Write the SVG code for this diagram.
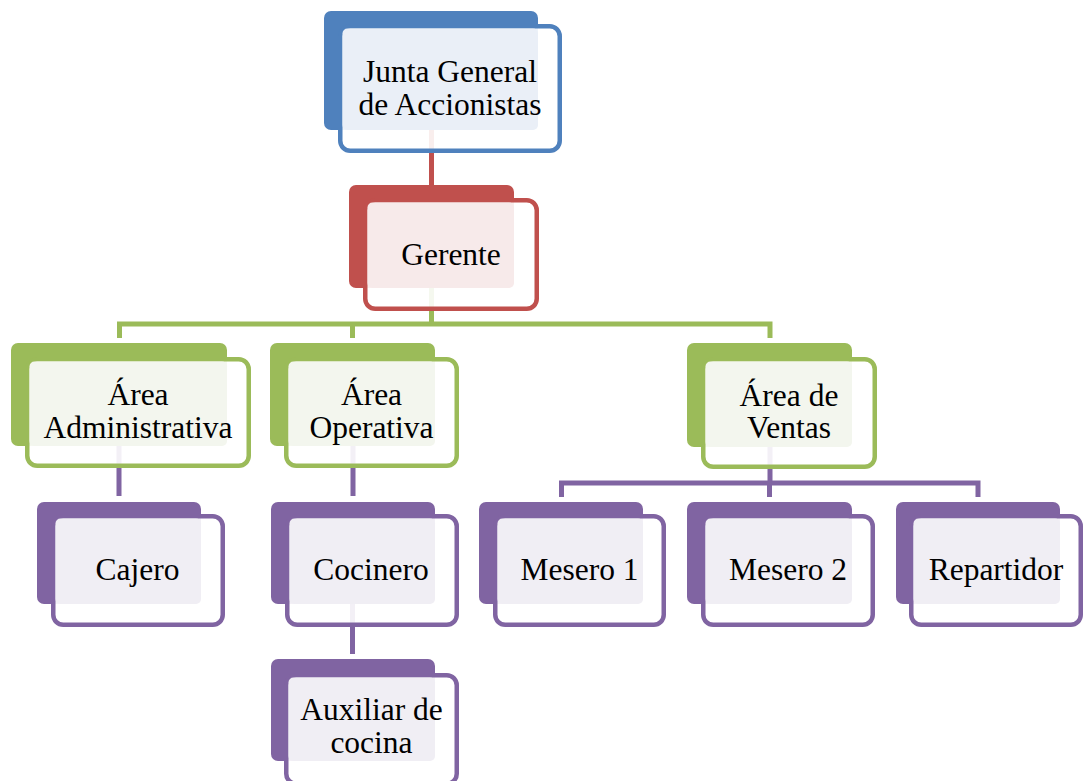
<svg xmlns="http://www.w3.org/2000/svg" width="1084" height="781" viewBox="0 0 1084 781">
<style>
text{font-family:"Liberation Serif","Times New Roman",serif;font-size:31.5px;fill:#000;text-anchor:middle}
.front{fill:#fff;fill-opacity:0.9;stroke-width:4.5}
.conn{fill:none;stroke-width:5;stroke-linejoin:miter}
.b .back{fill:#4F81BD}.b .front{stroke:#4F81BD}.b .light{fill:#EAEFF7}
.r .back{fill:#C0504D}.r .front{stroke:#C0504D}.r .light{fill:#F7EAEA}
.g .back{fill:#9BBB59}.g .front{stroke:#9BBB59}.g .light{fill:#F3F6EE}
.p .back{fill:#8064A2}.p .front{stroke:#8064A2}.p .light{fill:#F0EEF4}
</style>
<g id="connectors">
<path class="conn" stroke="#C0504D" d="M431.5 130 V185"/>
<path class="conn" stroke="#9BBB59" d="M431.5 288 V324 M119.5 338 V324 H770 V338 M352.5 324 V338"/>
<path class="conn" stroke="#8064A2" d="M119 446 V496 M353 446 V496 M352.5 604 V654 M770 447 V483 M561.5 497 V483 H978 V497 M769.5 483 V497"/>
</g>
<g id="junta" class="b">
<rect class="back" x="324" y="11" width="214" height="119" rx="7"/>
<rect class="front" x="340.25" y="26.25" width="219.5" height="124.5" rx="10"/>
<rect class="light" x="342.5" y="28.5" width="195.5" height="101.5" rx="5"/>
<text x="450" y="82">Junta General</text>
<text x="450" y="115">de Accionistas</text>
</g>
<g id="gerente" class="r">
<rect class="back" x="349" y="185" width="165" height="103" rx="7"/>
<rect class="front" x="365.25" y="200.25" width="171.5" height="108.5" rx="10"/>
<rect class="light" x="367.5" y="202.5" width="146.5" height="85.5" rx="5"/>
<text x="451" y="265">Gerente</text>
</g>
<g id="area-administrativa" class="g">
<rect class="back" x="11" y="343" width="216" height="103" rx="7"/>
<rect class="front" x="27.25" y="359.25" width="221.5" height="106.5" rx="10"/>
<rect class="light" x="29.5" y="361.5" width="197.5" height="84.5" rx="5"/>
<text x="138" y="405">Área</text>
<text x="138" y="438">Administrativa</text>
</g>
<g id="area-operativa" class="g">
<rect class="back" x="270" y="343" width="165" height="103" rx="7"/>
<rect class="front" x="286.25" y="359.25" width="170.5" height="106.5" rx="10"/>
<rect class="light" x="288.5" y="361.5" width="146.5" height="84.5" rx="5"/>
<text x="371.5" y="405">Área</text>
<text x="371.5" y="438">Operativa</text>
</g>
<g id="area-ventas" class="g">
<rect class="back" x="687" y="343" width="165" height="104" rx="7"/>
<rect class="front" x="703.25" y="359.25" width="171.5" height="107.5" rx="10"/>
<rect class="light" x="705.5" y="361.5" width="146.5" height="85.5" rx="5"/>
<text x="789" y="406">Área de</text>
<text x="789" y="438">Ventas</text>
</g>
<g id="cajero" class="p">
<rect class="back" x="37" y="502" width="164" height="102" rx="7"/>
<rect class="front" x="53.25" y="516.25" width="169.5" height="108.5" rx="10"/>
<rect class="light" x="55.5" y="518.5" width="145.5" height="85.5" rx="5"/>
<text x="137.5" y="580">Cajero</text>
</g>
<g id="cocinero" class="p">
<rect class="back" x="271" y="502" width="164" height="102" rx="7"/>
<rect class="front" x="287.25" y="516.25" width="169.5" height="108.5" rx="10"/>
<rect class="light" x="289.5" y="518.5" width="145.5" height="85.5" rx="5"/>
<text x="371" y="580">Cocinero</text>
</g>
<g id="auxiliar-cocina" class="p">
<rect class="back" x="271" y="659" width="164" height="102" rx="7"/>
<rect class="front" x="286.25" y="675.25" width="170.5" height="108.5" rx="10"/>
<rect class="light" x="288.5" y="677.5" width="146.5" height="83.5" rx="5"/>
<text x="371.5" y="720">Auxiliar de</text>
<text x="371.5" y="753">cocina</text>
</g>
<g id="mesero-1" class="p">
<rect class="back" x="479" y="502" width="164" height="102" rx="7"/>
<rect class="front" x="495.25" y="516.25" width="168.5" height="108.5" rx="10"/>
<rect class="light" x="497.5" y="518.5" width="145.5" height="85.5" rx="5"/>
<text x="579.5" y="580">Mesero 1</text>
</g>
<g id="mesero-2" class="p">
<rect class="back" x="687" y="502" width="165" height="102" rx="7"/>
<rect class="front" x="703.25" y="516.25" width="169.5" height="108.5" rx="10"/>
<rect class="light" x="705.5" y="518.5" width="146.5" height="85.5" rx="5"/>
<text x="788" y="580">Mesero 2</text>
</g>
<g id="repartidor" class="p">
<rect class="back" x="896" y="502" width="164" height="102" rx="7"/>
<rect class="front" x="911.25" y="516.25" width="169.5" height="108.5" rx="10"/>
<rect class="light" x="913.5" y="518.5" width="146.5" height="85.5" rx="5"/>
<text x="996" y="580">Repartidor</text>
</g>
</svg>
